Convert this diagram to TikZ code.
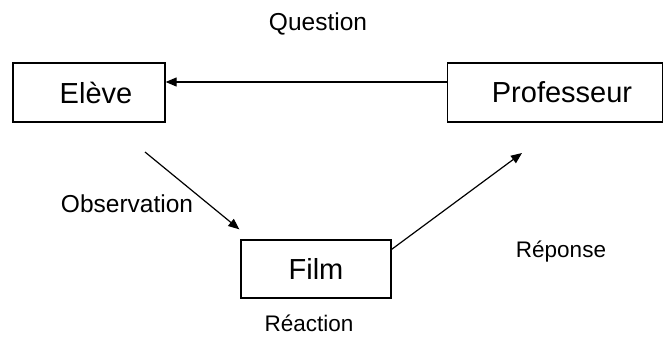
\documentclass[tikz,border=0pt]{standalone}
\usepackage{fontspec}
\setmainfont{Liberation Sans}
\usetikzlibrary{arrows.meta}
\begin{document}
\begin{tikzpicture}[x=1pt,y=-1pt,
  box/.style={draw, line width=1.3pt, inner sep=0pt, font=\fontsize{29}{32}\selectfont},
  lbl/.style={inner sep=0pt, font=\fontsize{24.5}{28}\selectfont},
  slbl/.style={inner sep=0pt, font=\fontsize{22.5}{26}\selectfont},
  arr/.style={line width=1.2pt, -{Triangle[length=11pt,width=9pt]}}]
\useasboundingbox (0,0) rectangle (664,351);
\node[box, minimum width=152pt, minimum height=59pt] (eleve) at (89,92.5) {\hspace*{14pt}Elève};
\node[box, minimum width=215pt, minimum height=59pt] (prof) at (555,92.5) {\hspace*{14pt}Professeur};
\node[box, minimum width=150pt, minimum height=58pt] (film) at (316,269) {Film};
\node[lbl] (question) at (318,24) {Question};
\node[lbl] (observation) at (127,204) {Observation};
\node[slbl] (reponse) at (561,252) {Réponse};
\node[slbl] (reaction) at (309,323) {Réaction};
\coordinate (obsstart) at (145,152);
\coordinate (repend) at (522,153);
\draw[arr] ([yshift=10.5pt]prof.west) -- ([yshift=10.5pt]eleve.east);
\draw[arr] (obsstart) -- ([xshift=-1pt,yshift=10pt]film.north west);
\draw[arr] ([yshift=-10pt]film.north east) -- (repend);
\end{tikzpicture}
\end{document}
